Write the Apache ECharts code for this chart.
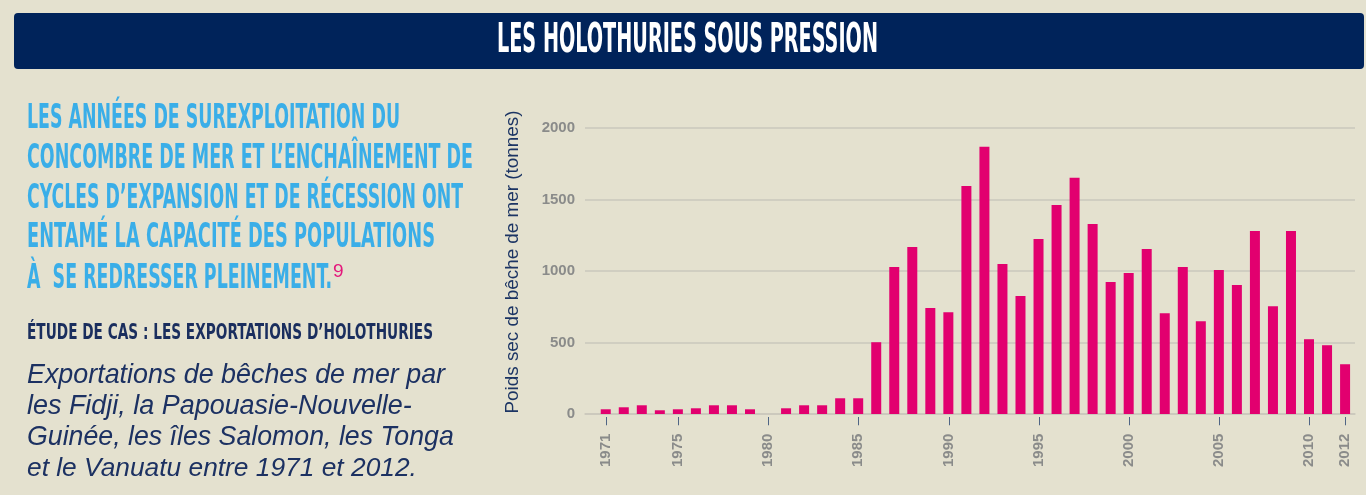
<!DOCTYPE html>
<html>
<head>
<meta charset="utf-8">
<script src="https://cdn.jsdelivr.net/npm/echarts@6/dist/echarts.min.js"></script>
<style>
html,body{margin:0;padding:0;background:#e4e1cf;}
#c{width:1366px;height:495px;}
</style>
</head>
<body>
<div id="c"></div>
<script>
var years = [1971,1972,1973,1974,1975,1976,1977,1978,1979,1980,
             1981,1982,1983,1984,1985,1986,1987,1988,1989,1990,
             1991,1992,1993,1994,1995,1996,1997,1998,1999,2000,
             2001,2002,2003,2004,2005,2006,2007,2008,2009,2010,
             2011,2012];
var exportsTonnes = [33,47,61,26,33,40,61,61,33,0,
                     40,61,61,110,110,502,1028,1168,741,712,
                     1595,1869,1049,825,1224,1462,1652,1329,923,986,
                     1154,705,1028,649,1007,902,1280,754,1280,523,
                     481,348];
var yearLabels = [1971,1975,1980,1985,1990,1995,2000,2005,2010,2012];
var yTicks = [0,500,1000,1500,2000];

var titleText = 'LES HOLOTHURIES SOUS PRESSION';
var leadLines = [
  'LES ANNÉES DE SUREXPLOITATION DU',
  'CONCOMBRE DE MER ET L\u2019ENCHAÎNEMENT DE',
  'CYCLES D\u2019EXPANSION ET DE RÉCESSION ONT',
  'ENTAMÉ LA CAPACITÉ DES POPULATIONS',
  'À  SE REDRESSER PLEINEMENT.'
];
var footnote = '9';
var caseTitle = 'ÉTUDE DE CAS : LES EXPORTATIONS D\u2019HOLOTHURIES';
var captionLines = [
  'Exportations de bêches de mer par',
  'les Fidji, la Papouasie-Nouvelle-',
  'Guinée, les îles Salomon, les Tonga',
  'et le Vanuatu entre 1971 et 2012.'
];
var yAxisTitle = 'Poids sec de bêche de mer (tonnes)';

var ctx = document.createElement('canvas').getContext('2d');
function measure(text, font){ ctx.font = font; return ctx.measureText(text).width; }
var condFam = '"Liberation Sans Narrow","DejaVu Sans Condensed","Roboto",sans-serif';
var sansFam = '"Liberation Sans",Arial,sans-serif';

function condText(text, x, y, size, target, fill, weight){
  var font = (weight||'bold') + ' ' + size + 'px ' + condFam;
  var sx = target / measure(text, font);
  return {type:'text', x:x, y:y, scaleX:sx, scaleY:1, z:10,
    style:{text:text, font:font, fill:fill, align:'left', verticalAlign:'middle', textAlign:'left', textVerticalAlign:'middle'}};
}
function italicText(text, x, y, target, fill){
  var base = 'italic 22px ' + sansFam;
  var size = 22 * target / measure(text, base);
  return {type:'text', x:x, y:y, z:10,
    style:{text:text, font:'italic ' + size.toFixed(2) + 'px ' + sansFam, fill:fill, align:'left', verticalAlign:'middle', textAlign:'left', textVerticalAlign:'middle'}};
}

var graphics = [];
graphics.push({type:'rect', shape:{x:14,y:13,width:1350,height:56,r:4}, style:{fill:'#00235a'}, z:5});
graphics.push(condText(titleText, 497, 42, 40, 381, '#ffffff', 'bold'));
var leadY = [119,159,199,238,279];
var leadW = [373,446,436,408,305];
for (var i=0;i<leadLines.length;i++){
  graphics.push(condText(leadLines[i], 27, leadY[i], 33, leadW[i], '#3aaee8', 'bold'));
}
graphics.push({type:'text', x:333, y:272, z:10, style:{text:footnote, font:'19px ' + sansFam, fill:'#e4177b', align:'left', verticalAlign:'middle', textAlign:'left', textVerticalAlign:'middle'}});
graphics.push(condText(caseTitle, 27, 334, 21, 406, '#1a2e5e', 'bold'));
var capY = [376,407,438,469];
var capW = [418,385,427,390];
for (var j=0;j<captionLines.length;j++){
  graphics.push(italicText(captionLines[j], 27, capY[j], capW[j], '#1c3162'));
}
var yFont = '16px ' + sansFam;
var ySize = 16 * 303 / measure(yAxisTitle, yFont);
graphics.push({type:'text', x:513, y:262, rotation:Math.PI/2, z:10,
  style:{text:yAxisTitle, font: ySize.toFixed(2)+'px ' + sansFam, fill:'#1c3564', align:'center', verticalAlign:'middle', textAlign:'center', textVerticalAlign:'middle'}});

var chart = echarts.init(document.getElementById('c'), null, {renderer:'canvas'});
chart.setOption({
  backgroundColor:'#e4e1cf',
  animation:false,
  graphic:{elements:graphics},
  grid:{left:585, right:11, top:128, bottom:81, containLabel:false},
  xAxis:{
    type:'value', min:1969.85, max:2012.55,
    axisLine:{show:true, lineStyle:{color:'#cac7bc', width:1.5}},
    axisTick:{show:false},
    splitLine:{show:false},
    axisLabel:{
      customValues: yearLabels,
      rotate:90, margin:3,
      fontSize:15, fontWeight:'bold', color:'#8a8b8a', fontFamily:sansFam,
      formatter:function(v){ return '{v|' + v + '}{t|  \u2013}'; },
      rich:{
        v:{fontSize:15, fontWeight:'bold', color:'#8a8b8a', fontFamily:sansFam},
        t:{fontSize:15, fontWeight:'normal', color:'#4f6585', fontFamily:sansFam}
      }
    }
  },
  yAxis:{
    type:'value', min:0, max:2000, interval:500,
    axisLine:{show:false}, axisTick:{show:false},
    splitLine:{show:true, lineStyle:{color:'#cac7bc', width:1.5}},
    axisLabel:{fontSize:15, fontWeight:'bold', color:'#8a8b8a', margin:10, fontFamily:sansFam,
      formatter:function(v){ return String(v); }}
  },
  series:[{
    type:'bar', barWidth:10,
    itemStyle:{color:'#e2006f'},
    data: years.map(function(y,i){ return [y, exportsTonnes[i]]; })
  }]
});
</script>
</body>
</html>
